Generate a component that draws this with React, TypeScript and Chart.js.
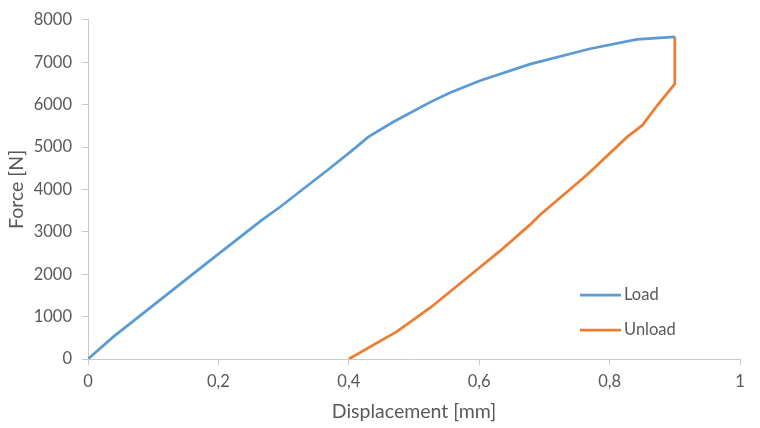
import React, { useEffect, useRef } from "react";
import { Chart, registerables } from "chart.js";

Chart.register(...registerables);

// Load curve (displacement mm, force N)
const loadX = [0, 0.04, 0.064, 0.187, 0.266, 0.294, 0.371, 0.41, 0.43, 0.468, 0.525, 0.555, 0.601, 0.678, 0.77, 0.842, 0.9];
const loadY = [0, 540, 830, 2320, 3270, 3580, 4500, 4980, 5240, 5590, 6060, 6280, 6565, 6955, 7320, 7540, 7600];

// Unload curve
const unloadX = [0.9, 0.9, 0.873, 0.85, 0.827, 0.765, 0.694, 0.678, 0.632, 0.596, 0.525, 0.473, 0.4];
const unloadY = [7600, 6490, 5980, 5510, 5240, 4340, 3410, 3170, 2550, 2100, 1210, 640, 0];

const seriesNames = ["Load", "Unload"];
const seriesColors = ["#5B9BD5", "#ED7D31"];
const xTickLabels = ["0", "0,2", "0,4", "0,6", "0,8", "1"];
const xTitle = "Displacement [mm]";
const yTitle = "Force [N]";

const FONT = "Lato, 'Open Sans', sans-serif";
const TEXT = "#595959";
const AXIS = "#c9c9c9";

const legendPlugin = {
  id: "insideLegend",
  afterDraw(chart: any) {
    const ctx = chart.ctx;
    const ds = chart.data.datasets;
    const x0 = 580;
    const rows = [295, 330];
    ctx.save();
    ds.forEach((d: any, i: number) => {
      const y = rows[i];
      ctx.strokeStyle = d.borderColor;
      ctx.lineWidth = 2.75;
      ctx.beginPath();
      ctx.moveTo(x0, y);
      ctx.lineTo(x0 + 41, y);
      ctx.stroke();
      ctx.fillStyle = TEXT;
      ctx.font = "16.5px " + FONT;
      ctx.textAlign = "left";
      ctx.textBaseline = "middle";
      ctx.fillText(d.label, x0 + 44, y);
    });
    ctx.restore();
  },
};

export default function App() {
  const ref = useRef<HTMLCanvasElement>(null);
  useEffect(() => {
    if (!ref.current) return;
    const chart = new Chart(ref.current, {
      type: "scatter",
      data: {
        datasets: [
          {
            label: seriesNames[0],
            data: loadX.map((x, i) => ({ x, y: loadY[i] })),
            borderColor: seriesColors[0],
            backgroundColor: seriesColors[0],
            showLine: true,
            borderWidth: 2.75,
            pointRadius: 0,
            tension: 0,
          },
          {
            label: seriesNames[1],
            data: unloadX.map((x, i) => ({ x, y: unloadY[i] })),
            borderColor: seriesColors[1],
            backgroundColor: seriesColors[1],
            showLine: true,
            borderWidth: 2.75,
            pointRadius: 0,
            tension: 0,
          },
        ],
      },
      options: {
        responsive: false,
        animation: false,
        layout: { padding: { left: 0, right: 20, top: 17, bottom: 0 } },
        plugins: { legend: { display: false }, tooltip: { enabled: false } },
        scales: {
          x: {
            type: "linear",
            min: 0,
            max: 1,
            afterFit: (s: any) => {
              s.height = 69;
            },
            ticks: {
              stepSize: 0.2,
              color: TEXT,
              font: { family: FONT, size: 16.5 },
              padding: 7,
              callback: (_v: any, i: number) => xTickLabels[i],
            },
            grid: { drawOnChartArea: false, drawTicks: true, tickLength: 6, color: AXIS },
            border: { display: true, color: AXIS },
            title: {
              display: true,
              text: xTitle,
              color: TEXT,
              font: { family: FONT, size: 19.5 },
              padding: { top: 0, bottom: 5 },
            },
          },
          y: {
            type: "linear",
            min: 0,
            max: 8000,
            afterFit: (s: any) => {
              s.width = 88;
            },
            ticks: {
              stepSize: 1000,
              color: TEXT,
              font: { family: FONT, size: 16.5 },
              padding: 10,
              callback: (v: any) => String(v),
            },
            grid: { drawOnChartArea: false, drawTicks: true, tickLength: 6, color: AXIS },
            border: { display: true, color: AXIS },
            title: {
              display: true,
              text: yTitle,
              color: TEXT,
              font: { family: FONT, size: 19.5 },
              padding: { top: 5, bottom: 0 },
            },
          },
        },
      },
      plugins: [legendPlugin],
    });
    return () => chart.destroy();
  }, []);
  return (
    <div style={{ position: "absolute", left: 0, top: 0, width: 760, height: 428, background: "#fff" }}>
      <canvas ref={ref} width={760} height={428} />
    </div>
  );
}
